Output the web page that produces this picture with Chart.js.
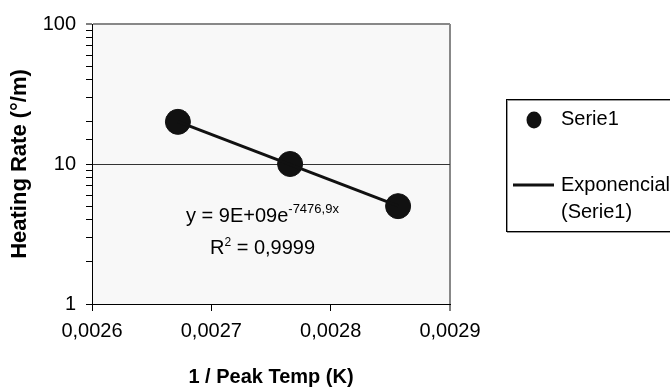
<!DOCTYPE html>
<html>
<head>
<meta charset="utf-8">
<script src="https://cdn.jsdelivr.net/npm/chart.js@4/dist/chart.umd.min.js"></script>
<style>
  body { margin: 0; background: #fff; }
  #wrap { width: 670px; height: 391px; }
</style>
</head>
<body>
<div id="wrap"><canvas id="myChart" width="670" height="391"></canvas></div>
<script>
// data
const invPeakTemp = [0.002672, 0.002766, 0.0028565]
const heatingRate = [20, 10, 5]
const xTicks = [0.0026, 0.0027, 0.0028, 0.0029]
const yTickLabels = [1, 10, 100]
const legendSerie = "Serie1"
const legendTrend = ["Exponencial", "(Serie1)"]
const eqMain = "y = 9E+09e"
const eqExp = "-7476,9x"
const r2Text = " = 0,9999"

const FONT = "'Liberation Sans', Arial, sans-serif"

// exponential trendline (least squares on ln y), like the spreadsheet does
function expTrend(xs, ys) {
    const n = xs.length
    let sx = 0, sy = 0, sxx = 0, sxy = 0
    for (let i = 0; i < n; i++) {
        const ly = Math.log(ys[i])
        sx += xs[i]; sy += ly; sxx += xs[i] * xs[i]; sxy += xs[i] * ly
    }
    const b = (n * sxy - sx * sy) / (n * sxx - sx * sx)
    const a = (sy - b * sx) / n
    const x0 = Math.min(...xs), x1 = Math.max(...xs)
    return [{ x: x0, y: Math.exp(a + b * x0) }, { x: x1, y: Math.exp(a + b * x1) }]
}

const near = (a, b) => Math.abs(a - b) < 1e-9

const plotBg = {
    id: "plotBg",
    beforeDraw(chart) {
        const { ctx, chartArea: a } = chart
        ctx.save()
        ctx.fillStyle = "#f8f8f8"
        ctx.fillRect(a.left, a.top, a.right - a.left, a.bottom - a.top)
        ctx.restore()
    }
}

const extras = {
    id: "extras",
    afterDraw(chart) {
        const ctx = chart.ctx
        ctx.save()
        ctx.fillStyle = "#000"
        ctx.textBaseline = "alphabetic"

        // equation + R2
        ctx.font = "20px " + FONT
        ctx.fillText(eqMain, 186, 222)
        let w = ctx.measureText(eqMain).width
        ctx.font = "13px " + FONT
        ctx.fillText(eqExp, 186 + w, 213)
        ctx.font = "20px " + FONT
        ctx.fillText("R", 210, 254)
        let rw = ctx.measureText("R").width
        ctx.font = "12px " + FONT
        ctx.fillText("2", 210 + rw, 246)
        let sw = ctx.measureText("2").width
        ctx.font = "20px " + FONT
        ctx.fillText(r2Text, 210 + rw + sw, 254)

        // legend box
        ctx.strokeStyle = "#999"
        ctx.lineWidth = 1
        ctx.strokeRect(507.5, 100.5, 200, 132)
        ctx.strokeStyle = "#000"
        ctx.strokeRect(506.5, 99.5, 200, 132)

        ctx.fillStyle = "#111"
        ctx.beginPath()
        ctx.ellipse(534, 120, 7.5, 8.5, 0, 0, Math.PI * 2)
        ctx.fill()

        ctx.strokeStyle = "#111"
        ctx.lineWidth = 3
        ctx.beginPath()
        ctx.moveTo(513, 185)
        ctx.lineTo(554, 185)
        ctx.stroke()

        ctx.fillStyle = "#000"
        ctx.font = "20px " + FONT
        ctx.fillText(legendSerie, 561, 125)
        ctx.fillText(legendTrend[0], 561, 191)
        ctx.fillText(legendTrend[1], 561, 218)
        ctx.restore()
    }
}

function chart() {
    const data = {
        datasets: [
            {
                type: "scatter",
                label: legendSerie,
                data: invPeakTemp.map((x, i) => ({ x: x, y: heatingRate[i] })),
                backgroundColor: "#111",
                borderColor: "#111",
                pointRadius: 12.5,
                pointHoverRadius: 12.5,
                order: 2
            },
            {
                type: "line",
                label: legendTrend.join(" "),
                data: expTrend(invPeakTemp, heatingRate),
                borderColor: "#111",
                borderWidth: 3,
                pointRadius: 0,
                fill: false,
                order: 1
            }
        ]
    }

    const config = {
        data: data,
        options: {
            responsive: false,
            animation: false,
            layout: { padding: { top: 24, right: 220, left: 0, bottom: 0 } },
            plugins: {
                legend: { display: false },
                tooltip: { enabled: false }
            },
            scales: {
                x: {
                    type: "linear",
                    min: xTicks[0],
                    max: xTicks[xTicks.length - 1],
                    afterFit: s => { s.height = 87 },
                    afterBuildTicks: s => { s.ticks = xTicks.map(v => ({ value: v })) },
                    ticks: {
                        color: "#000",
                        font: { size: 20, family: FONT },
                        padding: 8,
                        maxRotation: 0,
                        autoSkip: false,
                        callback: v => v.toFixed(4).replace(".", ",")
                    },
                    grid: {
                        color: c => c.tick && near(c.tick.value, xTicks[xTicks.length - 1]) ? "#888" : "rgba(0,0,0,0)",
                        lineWidth: c => c.tick && near(c.tick.value, xTicks[xTicks.length - 1]) ? 2 : 1,
                        tickColor: "#000",
                        tickWidth: 1,
                        tickLength: 7
                    },
                    border: { display: true, color: "#000", width: 1 },
                    title: {
                        display: true,
                        text: "1 / Peak Temp (K)",
                        color: "#000",
                        font: { size: 20, weight: "bold", family: FONT },
                        padding: { top: 0, bottom: 2 }
                    }
                },
                y: {
                    type: "logarithmic",
                    min: yTickLabels[0],
                    max: yTickLabels[yTickLabels.length - 1],
                    afterFit: s => { s.width = 92 },
                    ticks: {
                        color: "#000",
                        font: { size: 20, family: FONT },
                        padding: 10,
                        autoSkip: false,
                        callback: v => yTickLabels.includes(v) ? String(v) : ""
                    },
                    grid: {
                        color: c => {
                            if (!c.tick) return "rgba(0,0,0,0)"
                            if (c.tick.value === 10) return "#333"
                            if (c.tick.value === 100) return "#888"
                            return "rgba(0,0,0,0)"
                        },
                        lineWidth: c => c.tick && c.tick.value === 100 ? 2 : 1,
                        tickColor: "#000",
                        tickWidth: 1,
                        tickLength: 6
                    },
                    border: { display: true, color: "#000", width: 1 },
                    title: {
                        display: true,
                        text: "Heating Rate (°/m)",
                        color: "#000",
                        font: { size: 22, weight: "bold", family: FONT },
                        padding: { top: 7, bottom: 0 }
                    }
                }
            }
        },
        plugins: [plotBg, extras]
    }

    new Chart(document.getElementById("myChart"), config)
}
chart()
</script>
</body>
</html>
